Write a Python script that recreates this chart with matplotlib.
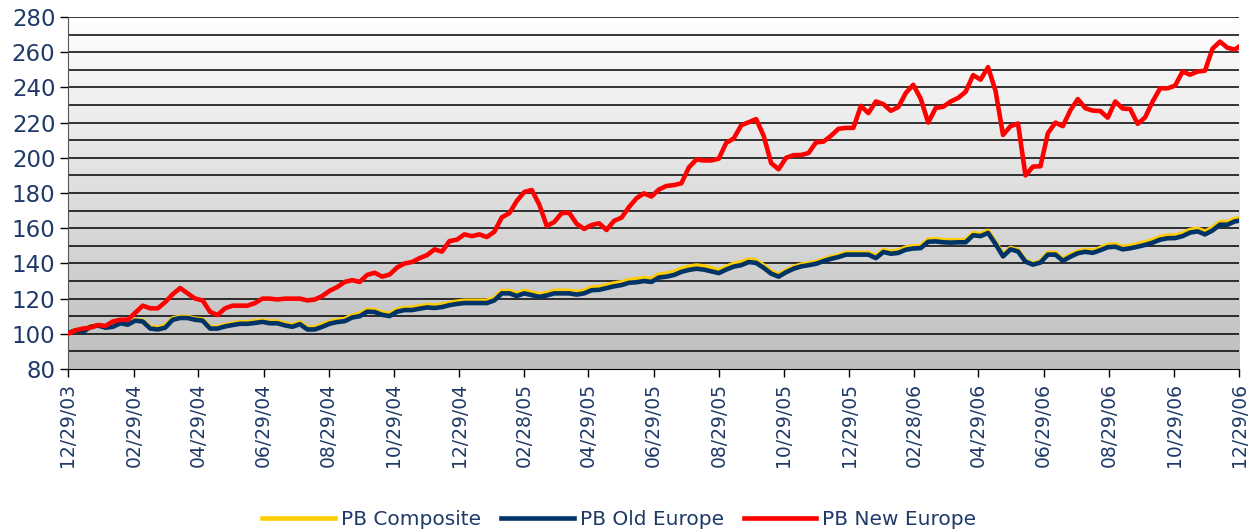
import matplotlib
matplotlib.use("Agg")
import matplotlib.pyplot as plt
import matplotlib.dates as mdates
from matplotlib.colors import LinearSegmentedColormap
import numpy as np
import pandas as pd

# weekly readings, first week starting 12/29/03
start_date = "2003-12-29"

new_europe = [
    100, 102, 103, 103.5, 105, 104.5, 107, 108, 108, 112,
    116, 114.5, 114.5, 118, 122.5, 126, 123, 120, 119, 112.5,
    110.7, 114.5, 116, 116, 116, 117.5, 120, 120, 119.5, 120,
    120, 120, 119, 119.5, 121.5, 124.5, 126.6, 129.5, 130.5, 129.5,
    133.5, 134.7, 132.5, 133.7, 137.7, 140, 140.8, 143, 144.7, 148,
    146.7, 152.7, 153.5, 156.5, 155.5, 156.5, 155, 158, 166.2, 168.5,
    175.5, 180.6, 181.7, 173.5, 161.3, 163.5, 168.6, 168.8, 162.5, 159.6,
    161.8, 162.8, 159, 164.2, 166, 172, 177, 179.8, 178, 182,
    184, 184.5, 185.5, 194.5, 199, 198.5, 198.5, 199.5, 208.5, 211,
    218.5, 220.2, 222, 212.5, 197, 193.5, 200, 201.5, 201.6, 202.7,
    208.8, 209.2, 212.5, 216.5, 217, 217, 229.5, 225.4, 232, 230.5,
    226.7, 228.8, 236.8, 241.5, 233.5, 220, 228.3, 229, 232, 234,
    237.5, 247, 244.4, 251.5, 238, 213, 218, 219.5, 190, 195,
    195.2, 214, 220, 218, 227, 233.4, 228.2, 226.8, 226.6, 222.8,
    232, 228, 227.7, 219.3, 223, 232, 239.5, 239.5, 241, 249,
    247.2, 249, 249.5, 262, 266, 262.5, 261.5, 264.5,
]

old_europe = [
    100.4, 102, 101, 104, 104.7, 103.5, 104, 106, 105.2, 107.5,
    107, 103, 102.5, 103.5, 108, 109, 109, 108, 107.5, 103,
    103, 104.2, 105, 105.7, 105.7, 106.2, 106.8, 106, 106, 104.8,
    104, 105.5, 102.5, 102.5, 104, 105.8, 106.7, 107.2, 109.3, 110,
    112.6, 112.4, 110.8, 110.1, 112.6, 113.5, 113.5, 114.3, 115, 114.7,
    115.2, 116.3, 117, 117.5, 117.5, 117.5, 117.5, 119, 123, 123,
    121.5, 123, 122, 121, 121.8, 123, 123, 123, 122.3, 123,
    124.8, 125, 126, 127, 127.7, 129, 129.3, 130, 129.5, 132,
    132.5, 133.4, 135.2, 136.3, 137, 136.5, 135.5, 134.5, 136.5, 138.2,
    139, 140.8, 140.3, 137.5, 134.2, 132.5, 135, 137, 138.3, 139,
    139.8, 141.3, 142.6, 143.6, 145, 145, 145, 145, 143, 146.5,
    145.5, 146, 147.8, 148.5, 148.7, 152.3, 152.5, 152, 151.8, 152,
    152, 156, 155.5, 157.3, 151, 144, 148, 146.8, 141, 139.3,
    140.5, 145, 145, 141.5, 143.8, 145.8, 146.6, 146, 147.5, 149.2,
    149.5, 148, 148.6, 149.5, 150.5, 151.8, 153.5, 154.3, 154.4, 155.5,
    157.5, 158.2, 156.5, 158.7, 162, 162, 163.9, 164.5,
]

composite = [
    100.4, 102.2, 101.5, 104.3, 105, 104, 104.5, 106.5, 105.8, 108,
    107.5, 103.8, 103.5, 104.5, 108.8, 109.6, 109.6, 108.6, 108.2, 103.8,
    103.8, 105, 105.8, 106.6, 106.6, 107.2, 107.6, 107, 107, 105.8,
    105, 106.5, 103.5, 103.5, 105.2, 106.8, 107.8, 108.4, 110.4, 111.2,
    113.7, 113.5, 112, 111.3, 113.8, 114.7, 114.8, 115.6, 116.3, 116,
    116.5, 117.6, 118.3, 118.8, 118.8, 118.8, 118.8, 120.3, 124.3, 124.3,
    122.8, 124.4, 123.4, 122.4, 123.2, 124.4, 124.5, 124.5, 123.8, 124.5,
    126.3, 126.6, 127.6, 128.6, 129.3, 130.6, 131, 131.7, 131.2, 133.7,
    134.2, 135.2, 137, 138.1, 138.8, 138.3, 137.3, 136, 138, 139.8,
    140.6, 142.2, 141.6, 138.8, 135.4, 133.6, 136, 138, 139.3, 140,
    140.8, 142.3, 143.6, 144.6, 146, 146, 146, 146, 144, 147.6,
    146.6, 147.2, 149, 149.7, 149.9, 153.5, 153.7, 153.2, 153, 153.2,
    153.2, 157.2, 156.7, 158.5, 152, 144.8, 148.8, 147.6, 141.6, 139.8,
    141.2, 146, 146, 142.4, 144.8, 146.8, 147.7, 147.2, 148.7, 150.5,
    150.8, 149.3, 150, 150.9, 152, 153.3, 155, 155.8, 155.9, 157,
    159, 159.7, 158, 160.2, 163.5, 163.5, 165.3, 165.8,
]

tick_labels = ["12/29/03", "02/29/04", "04/29/04", "06/29/04", "08/29/04",
               "10/29/04", "12/29/04", "02/28/05", "04/29/05", "06/29/05",
               "08/29/05", "10/29/05", "12/29/05", "02/28/06", "04/29/06",
               "06/29/06", "08/29/06", "10/29/06", "12/29/06"]

series_names = ["PB Composite", "PB Old Europe", "PB New Europe"]

text_col = "#1f3a68"
dates = pd.date_range(start_date, periods=len(new_europe), freq="7D")
tick_dates = pd.to_datetime(tick_labels, format="%m/%d/%y")

fig = plt.figure(figsize=(12.54, 5.31), dpi=100)
ax = fig.add_axes([0.0542, 0.305, 0.934, 0.663])

x0 = mdates.date2num(tick_dates[0])
x1 = mdates.date2num(tick_dates[-1])

# grey gradient background
bg = LinearSegmentedColormap.from_list("bg", ["#bebebe", "#ffffff"])
grad = np.linspace(0, 1, 256)[:, None]
ax.imshow(grad, extent=[x0, x1, 80, 280], origin="lower", aspect="auto",
          cmap=bg, zorder=0)

# horizontal grid every 10
ax.hlines(np.arange(90, 281, 10), x0, x1, color="black", lw=1.1, zorder=1)

ax.plot(dates, composite, color="#ffcc00", lw=3.3, zorder=3, label=series_names[0])
ax.plot(dates, old_europe, color="#003366", lw=3.3, zorder=4, label=series_names[1])
ax.plot(dates, new_europe, color="#ff0000", lw=3.3, zorder=5, label=series_names[2])

ax.set_xlim(x0, x1)
ax.set_ylim(80, 280)

ax.set_yticks(range(80, 281, 20))
ax.set_xticks(tick_dates)
ax.set_xticklabels(tick_labels, rotation=90, fontsize=13.5, color=text_col)
ax.tick_params(axis="y", labelsize=16.5, labelcolor=text_col,
               length=6, width=1, color="black", pad=3)
ax.tick_params(axis="x", length=6, width=1, color="black", pad=4)

for s in ["top", "right"]:
    ax.spines[s].set_visible(False)
ax.spines["left"].set_color("#555555")
ax.spines["bottom"].set_color("black")

fig.legend(loc="lower center", bbox_to_anchor=(0.494, -0.03), ncol=3,
           frameon=False, fontsize=14.5, labelcolor=text_col,
           handlelength=3.6, handletextpad=0.3, columnspacing=1.0)

fig.savefig("out.png", dpi=100)
